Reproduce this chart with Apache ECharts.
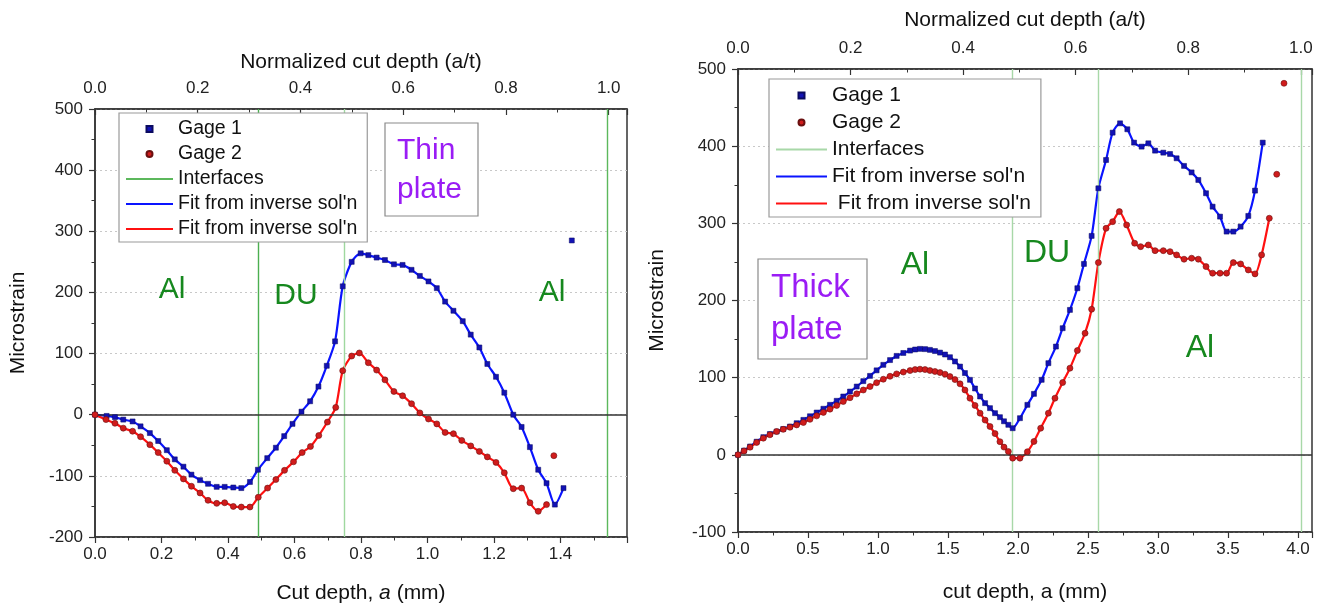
<!DOCTYPE html>
<html><head><meta charset="utf-8">
<script src="https://cdn.jsdelivr.net/npm/echarts@6/dist/echarts.min.js"></script>
<style>html,body{margin:0;padding:0;background:#fff}#c{width:1327px;height:612px}</style>
</head><body><div id="c"></div>
<script>
// ---------- DATA: thin plate (left) ----------
const thinG1X = [0, 0.035, 0.06, 0.085, 0.113, 0.137, 0.165, 0.19, 0.216, 0.24, 0.266, 0.29, 0.316, 0.34, 0.366, 0.39, 0.416, 0.44, 0.466, 0.49, 0.518, 0.544, 0.569, 0.594, 0.621, 0.647, 0.672, 0.697, 0.722, 0.745, 0.772, 0.799, 0.822, 0.847, 0.872, 0.899, 0.925, 0.952, 0.977, 1.003, 1.028, 1.053, 1.078, 1.106, 1.130, 1.156, 1.180, 1.206, 1.231, 1.258, 1.283, 1.308, 1.333, 1.358, 1.383, 1.409];
const thinG1Y = [0, -2, -4, -8, -11, -19, -30, -43, -58, -73, -85, -98, -107, -113, -118, -118, -119, -120, -110, -90, -71, -54, -35, -15, 5, 22, 46, 80, 120, 210, 250, 264, 261, 257, 253, 246, 245, 237, 227, 218, 207, 185, 170, 153, 131, 110, 83, 62, 36, 0, -20, -53, -90, -112, -147, -120];
const thinG1ExtraX = [1.434];
const thinG1ExtraY = [285];
const thinG2X = [0, 0.033, 0.06, 0.085, 0.113, 0.137, 0.165, 0.19, 0.216, 0.24, 0.266, 0.29, 0.316, 0.34, 0.366, 0.39, 0.416, 0.44, 0.466, 0.491, 0.519, 0.544, 0.570, 0.597, 0.623, 0.648, 0.673, 0.699, 0.724, 0.745, 0.772, 0.795, 0.822, 0.847, 0.872, 0.899, 0.925, 0.952, 0.977, 1.003, 1.028, 1.053, 1.078, 1.103, 1.130, 1.156, 1.180, 1.206, 1.231, 1.258, 1.283, 1.308, 1.333, 1.358];
const thinG2Y = [0, -8, -14, -22, -27, -36, -49, -62, -76, -91, -105, -117, -128, -140, -145, -144, -150, -151, -151, -135, -120, -106, -91, -77, -62, -52, -34, -12, 12, 72, 96, 101, 85, 73, 57, 38, 31, 18, 3, -7, -15, -29, -31, -42, -51, -60, -69, -78, -95, -121, -120, -144, -158, -147];
const thinG2ExtraX = [1.380];
const thinG2ExtraY = [-67];
const thinInterfaces = [0.493, 0.752, 1.545];
const thinThickness = 1.545;

// ---------- DATA: thick plate (right) ----------
const thickG1X = [0, 0.043, 0.086, 0.133, 0.181, 0.228, 0.276, 0.323, 0.371, 0.419, 0.467, 0.514, 0.562, 0.61, 0.657, 0.705, 0.752, 0.8, 0.848, 0.895, 0.943, 0.99, 1.038, 1.086, 1.133, 1.181, 1.229, 1.265, 1.3, 1.336, 1.371, 1.407, 1.443, 1.479, 1.514, 1.55, 1.586, 1.621, 1.657, 1.693, 1.729, 1.765, 1.8, 1.836, 1.871, 1.9, 1.931, 1.962, 2.014, 2.067, 2.114, 2.169, 2.217, 2.271, 2.319, 2.371, 2.424, 2.471, 2.526, 2.574, 2.629, 2.676, 2.729, 2.781, 2.829, 2.883, 2.931, 2.979, 3.038, 3.086, 3.133, 3.186, 3.24, 3.288, 3.343, 3.39, 3.443, 3.49, 3.538, 3.59, 3.645, 3.693, 3.748];
const thickG1Y = [0, 5.5, 10.8, 17, 22.9, 27, 30.2, 33.5, 36.7, 41, 45.3, 50, 54.8, 59.7, 64.8, 70, 75.6, 82, 88.5, 95.5, 102.3, 109.5, 116.6, 122.8, 128.2, 132, 135.1, 136.5, 137.3, 137, 136, 134.5, 132.5, 130, 126.5, 121, 114.4, 106, 97.2, 86, 75.6, 67, 60.5, 54, 48.8, 43.5, 38.9, 34.5, 47.5, 64.8, 79, 97.2, 118.8, 140.3, 164.1, 187.8, 215.9, 247.4, 283.7, 345.4, 382.1, 417.5, 429.6, 421.9, 404.6, 399.4, 403.7, 394.2, 391.6, 389.9, 384.3, 374.4, 366, 356.2, 339, 321.6, 308.7, 289.3, 289.3, 295.7, 309.6, 342.4, 404.6];
const thickG2X = [0, 0.043, 0.086, 0.133, 0.181, 0.228, 0.276, 0.323, 0.371, 0.419, 0.467, 0.514, 0.562, 0.61, 0.657, 0.705, 0.752, 0.8, 0.848, 0.895, 0.943, 0.99, 1.038, 1.086, 1.133, 1.181, 1.229, 1.265, 1.3, 1.336, 1.371, 1.407, 1.443, 1.479, 1.514, 1.55, 1.586, 1.621, 1.657, 1.693, 1.729, 1.765, 1.8, 1.836, 1.871, 1.9, 1.931, 1.962, 2.014, 2.067, 2.114, 2.162, 2.217, 2.264, 2.319, 2.371, 2.424, 2.479, 2.526, 2.574, 2.629, 2.676, 2.724, 2.776, 2.833, 2.876, 2.931, 2.979, 3.038, 3.086, 3.133, 3.186, 3.24, 3.288, 3.343, 3.39, 3.443, 3.49, 3.538, 3.59, 3.645, 3.693, 3.74, 3.795];
const thickG2Y = [0, 5, 9.9, 16, 21.6, 26, 30.2, 33, 35.8, 38.8, 41.9, 46, 50.5, 55, 59.2, 64, 69.1, 74, 79, 84, 88.5, 93.5, 98, 101.8, 104.9, 107.3, 109.2, 110.5, 111, 110.5, 109.2, 108, 106.6, 104.5, 101.4, 97.5, 92, 84, 73.4, 64, 54, 45, 36.7, 27.5, 17, 10, 4.3, -4.3, -4.3, 4, 17.3, 34.5, 54, 73.4, 93.7, 112.3, 135.1, 157.6, 188.7, 249.1, 293.6, 302.2, 315.2, 297.9, 274.2, 269.8, 272, 264.6, 264.6, 263.3, 259.1, 253.5, 254.8, 253.5, 243.9, 235.4, 235.4, 235.4, 249.1, 247.4, 239.6, 234.5, 259.1, 306.6];
const thickG2ExtraX = [3.848, 3.9];
const thickG2ExtraY = [363.6, 481.5];
const thickInterfaces = [1.964, 2.571, 4.02];
const thickThickness = 4.02;

// ---------- labels ----------
const legendText = {
  g1a: 'Gage 1', g2a: 'Gage 2', ifa: 'Interfaces', f1a: "Fit from inverse sol'n", f2a: "Fit from inverse sol'n",
  g1b: 'Gage 1', g2b: 'Gage 2', ifb: 'Interfaces', f1b: "Fit from inverse sol'n", f2b: " Fit from inverse sol'n"
};

const FONT = "'Liberation Sans', Arial, sans-serif";
const AXC = '#333';
const zip = (xs, ys) => xs.map((x, i) => [x, ys[i]]);

const chart = echarts.init(document.getElementById('c'), null, {renderer: 'canvas'});

function xBottom(gi, max, interval, name, gap) {
  return {
    type: 'value', gridIndex: gi, position: 'bottom', min: 0, max: max, interval: interval,
    axisLine: {show: true, onZero: false, lineStyle: {color: AXC, width: 1.5}},
    axisTick: {show: true, inside: false, length: 6, lineStyle: {color: AXC, width: 1.2}},
    minorTick: {show: true, splitNumber: 2, length: 3.5, lineStyle: {color: AXC, width: 1}},
    axisLabel: {fontSize: 17, fontFamily: FONT, color: '#222', margin: 9, showMaxLabel: false,
      formatter: v => v.toFixed(1)},
    splitLine: {show: false},
    name: name, nameLocation: 'middle', nameGap: gap,
    nameTextStyle: {fontSize: 21, fontFamily: FONT, color: '#111',
      rich: {i: {fontSize: 21, fontFamily: FONT, fontStyle: 'italic', color: '#111'}}}
  };
}
function xTop(gi, max, gap) {
  return {
    type: 'value', gridIndex: gi, position: 'top', min: 0, max: max, interval: 0.2,
    axisLine: {show: true, onZero: false, lineStyle: {color: AXC, width: 1.5}},
    axisTick: {show: true, inside: true, length: 6, lineStyle: {color: AXC, width: 1.2}},
    minorTick: {show: true, splitNumber: 2, length: 3.5, lineStyle: {color: AXC, width: 1}},
    axisLabel: {fontSize: 17, fontFamily: FONT, color: '#222', margin: 12, showMaxLabel: false,
      formatter: v => v.toFixed(1)},
    splitLine: {show: false},
    name: 'Normalized cut depth (a/t)', nameLocation: 'middle', nameGap: gap,
    nameTextStyle: {fontSize: 21, fontFamily: FONT, color: '#111'}
  };
}
function yLeft(gi, min, max, gap) {
  return {
    type: 'value', gridIndex: gi, min: min, max: max, interval: 100,
    axisLine: {show: true, onZero: false, lineStyle: {color: AXC, width: 1.5}},
    axisTick: {show: true, inside: false, length: 6, lineStyle: {color: AXC, width: 1.2}},
    minorTick: {show: true, splitNumber: 2, length: 3.5, lineStyle: {color: AXC, width: 1}},
    axisLabel: {fontSize: 17, fontFamily: FONT, color: '#222', margin: 12},
    splitLine: {show: true, lineStyle: {color: '#c8c8c8', type: [2, 3], width: 1}},
    name: 'Microstrain', nameLocation: 'middle', nameGap: gap,
    nameTextStyle: {fontSize: 21, fontFamily: FONT, color: '#111'}
  };
}

function panelSeries(sfx, xi, yi, g1, g2, f1, f2, ifaces, ifColors) {
  const common = {xAxisIndex: xi, yAxisIndex: yi, animation: false};
  return [
    Object.assign({}, common, {
      name: 'if' + sfx, type: 'line', data: [], z: 1, symbol: 'none',
      lineStyle: {color: ifColors[0], width: 2},
      markLine: {silent: true, symbol: ['none', 'none'], label: {show: false},
        data: ifaces.map((v, i) => ({xAxis: v, lineStyle: {color: ifColors[i + 1], width: 1.4, type: 'solid'}}))}
    }),
    Object.assign({}, common, {
      name: 'zero' + sfx, type: 'line', data: [], z: 1, symbol: 'none',
      markLine: {silent: true, symbol: ['none', 'none'], label: {show: false},
        data: [{yAxis: 0, lineStyle: {color: '#333', width: 1.5, type: 'solid'}}]}
    }),
    Object.assign({}, common, {
      name: 'f1' + sfx, type: 'line', data: f1, z: 3, symbol: 'none', smooth: 0.25,
      lineStyle: {color: '#0a14ff', width: 2.2}
    }),
    Object.assign({}, common, {
      name: 'f2' + sfx, type: 'line', data: f2, z: 3, symbol: 'none', smooth: 0.25,
      lineStyle: {color: '#ff1010', width: 2.2}
    }),
    Object.assign({}, common, {
      name: 'g1' + sfx, type: 'scatter', data: g1, z: 5, symbol: 'rect', symbolSize: 5,
      itemStyle: {color: '#1212b4', borderColor: '#0a0a60', borderWidth: 0.5, opacity: 1}
    }),
    Object.assign({}, common, {
      name: 'g2' + sfx, type: 'scatter', data: g2, z: 5, symbol: 'circle', symbolSize: 6,
      itemStyle: {color: '#d01c1c', borderColor: '#6a1010', borderWidth: 0.6, opacity: 1}
    })
  ];
}

const SQUARE = 'path://M0,0L10,0L10,10L0,10Z';
function legendOf(sfx, left, top, fontSize, gap, iconW) {
  const hideDot = {opacity: 0};
  return {
    show: true, orient: 'vertical', left: left, top: top, selectedMode: false,
    data: [
      {name: 'g1' + sfx, icon: SQUARE},
      {name: 'g2' + sfx, icon: 'circle'},
      {name: 'if' + sfx, itemStyle: hideDot},
      {name: 'f1' + sfx, itemStyle: hideDot},
      {name: 'f2' + sfx, itemStyle: hideDot}
    ],
    formatter: n => legendText[n],
    itemWidth: iconW, itemHeight: 6, itemGap: gap, symbolKeepAspect: true,
    padding: [6, 10, 3, 6],
    backgroundColor: '#fff', borderColor: '#9a9a9a', borderWidth: 1.2, z: 20,
    textStyle: {fontSize: fontSize, fontFamily: FONT, color: '#111'}
  };
}

const G = '#16881e', P = '#9a1cf5';
function txt(x, y, s, size, color, align) {
  return {type: 'text', x: x, y: y, z: 50,
    style: {text: s, fontSize: size, fontFamily: FONT, fill: color, align: align || 'center', verticalAlign: 'middle'}};
}

const option = {
  backgroundColor: '#fff',
  animation: false,
  grid: [
    {left: 95, top: 109, width: 532, height: 428, show: true, borderColor: AXC, borderWidth: 1.5, backgroundColor: 'transparent'},
    {left: 738, top: 69, width: 574, height: 463, show: true, borderColor: AXC, borderWidth: 1.5, backgroundColor: 'transparent'}
  ],
  xAxis: [
    xBottom(0, 1.6, 0.2, 'Cut depth, {i|a} (mm)', 46),
    xTop(0, 1.6 / thinThickness, 36),
    xBottom(1, 4.1, 0.5, 'cut depth, a (mm)', 50),
    xTop(1, 4.1 / thickThickness, 38)
  ],
  yAxis: [
    yLeft(0, -200, 500, 66),
    yLeft(1, -100, 500, 70)
  ],
  legend: [
    legendOf('a', 119, 113, 19.5, 5, 47),
    legendOf('b', 769, 79, 21, 6, 51)
  ],
  series: [].concat(
    panelSeries('a', 0, 0,
      zip(thinG1X.concat(thinG1ExtraX), thinG1Y.concat(thinG1ExtraY)),
      zip(thinG2X.concat(thinG2ExtraX), thinG2Y.concat(thinG2ExtraY)),
      zip(thinG1X, thinG1Y), zip(thinG2X, thinG2Y),
      thinInterfaces, ['#5cb85c', '#4caf50', '#9fd89f', '#5cb85c']),
    panelSeries('b', 2, 1,
      zip(thickG1X, thickG1Y),
      zip(thickG2X.concat(thickG2ExtraX), thickG2Y.concat(thickG2ExtraY)),
      zip(thickG1X, thickG1Y), zip(thickG2X, thickG2Y),
      thickInterfaces, ['#a8d8a8', '#a8d8a8', '#a8d8a8', '#a8d8a8'])
  ),
  graphic: [
    txt(172, 290, 'Al', 30, G), txt(296, 296, 'DU', 30, G), txt(552, 293, 'Al', 30, G),
    {type: 'rect', z: 40, shape: {x: 385, y: 123, width: 93, height: 93},
      style: {fill: '#fff', stroke: '#8a8a8a', lineWidth: 1.2}},
    txt(397, 151, 'Thin', 30, P, 'left'), txt(397, 190, 'plate', 30, P, 'left'),
    txt(915, 265, 'Al', 32, G), txt(1047, 253, 'DU', 32, G), txt(1200, 348, 'Al', 32, G),
    {type: 'rect', z: 40, shape: {x: 758, y: 259, width: 109, height: 100},
      style: {fill: '#fff', stroke: '#8a8a8a', lineWidth: 1.2}},
    txt(771, 288, 'Thick', 33, P, 'left'), txt(771, 330, 'plate', 33, P, 'left')
  ]
};
chart.setOption(option);
</script></body></html>
